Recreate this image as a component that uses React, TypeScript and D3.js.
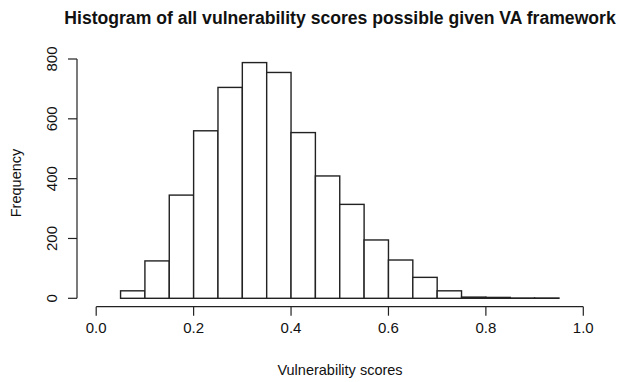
import * as d3 from 'd3'

const binStarts = [0.05, 0.1, 0.15, 0.2, 0.25, 0.3, 0.35, 0.4, 0.45, 0.5, 0.55, 0.6, 0.65, 0.7, 0.75, 0.8, 0.85, 0.9]
const counts = [25, 125, 345, 560, 705, 788, 755, 554, 409, 314, 195, 128, 70, 25, 4, 3, 1, 1]
const binWidth = 0.05
const xTicks = [0, 0.2, 0.4, 0.6, 0.8, 1.0]
const yTicks = [0, 200, 400, 600, 800]

const W = 620
const H = 382
const font = '"Liberation Sans", Arial, Helvetica, sans-serif'

export default function App() {
  const x = d3.scaleLinear().domain([0, 1]).range([96.2, 583.3])
  const y = d3.scaleLinear().domain([0, 800]).range([298.3, 59])
  const axisY = 306.7
  const axisX = 77

  return (
    <svg
      width={W}
      height={H}
      style={{ position: 'absolute', left: 0, top: 0, background: '#fff' }}
      fontFamily={font}
    >
      <text x={340} y={24} textAnchor="middle" fontSize={17.6} fontWeight="bold" fill="#111">
        Histogram of all vulnerability scores possible given VA framework
      </text>

      {/* bars */}
      <g>
        {binStarts.map((b, i) => (
          <rect
            key={i}
            x={x(b)}
            y={y(counts[i])}
            width={x(b + binWidth) - x(b)}
            height={y(0) - y(counts[i])}
            fill="#fff"
            stroke="#222"
            strokeWidth={1.4}
          />
        ))}
      </g>

      {/* x axis */}
      <g stroke="#222" strokeWidth={1.2}>
        <line x1={x(0)} x2={x(1)} y1={axisY} y2={axisY} />
        {xTicks.map(t => (
          <line key={t} x1={x(t)} x2={x(t)} y1={axisY} y2={axisY + 9} />
        ))}
      </g>
      {xTicks.map(t => (
        <text key={t} x={x(t)} y={axisY + 26} textAnchor="middle" fontSize={15} fill="#111">
          {d3.format('.1f')(t)}
        </text>
      ))}
      <text x={340} y={375} textAnchor="middle" fontSize={14.5} fill="#111">
        Vulnerability scores
      </text>

      {/* y axis */}
      <g stroke="#222" strokeWidth={1.2}>
        <line x1={axisX} x2={axisX} y1={y(0)} y2={y(800)} />
        {yTicks.map(t => (
          <line key={t} x1={axisX} x2={axisX - 9} y1={y(t)} y2={y(t)} />
        ))}
      </g>
      {yTicks.map(t => (
        <text
          key={t}
          transform={`translate(57,${y(t)}) rotate(-90)`}
          textAnchor="middle"
          fontSize={15}
          fill="#111"
        >
          {t}
        </text>
      ))}
      <text
        transform={`translate(21,183) rotate(-90)`}
        textAnchor="middle"
        fontSize={14.5}
        fill="#111"
      >
        Frequency
      </text>
    </svg>
  )
}
